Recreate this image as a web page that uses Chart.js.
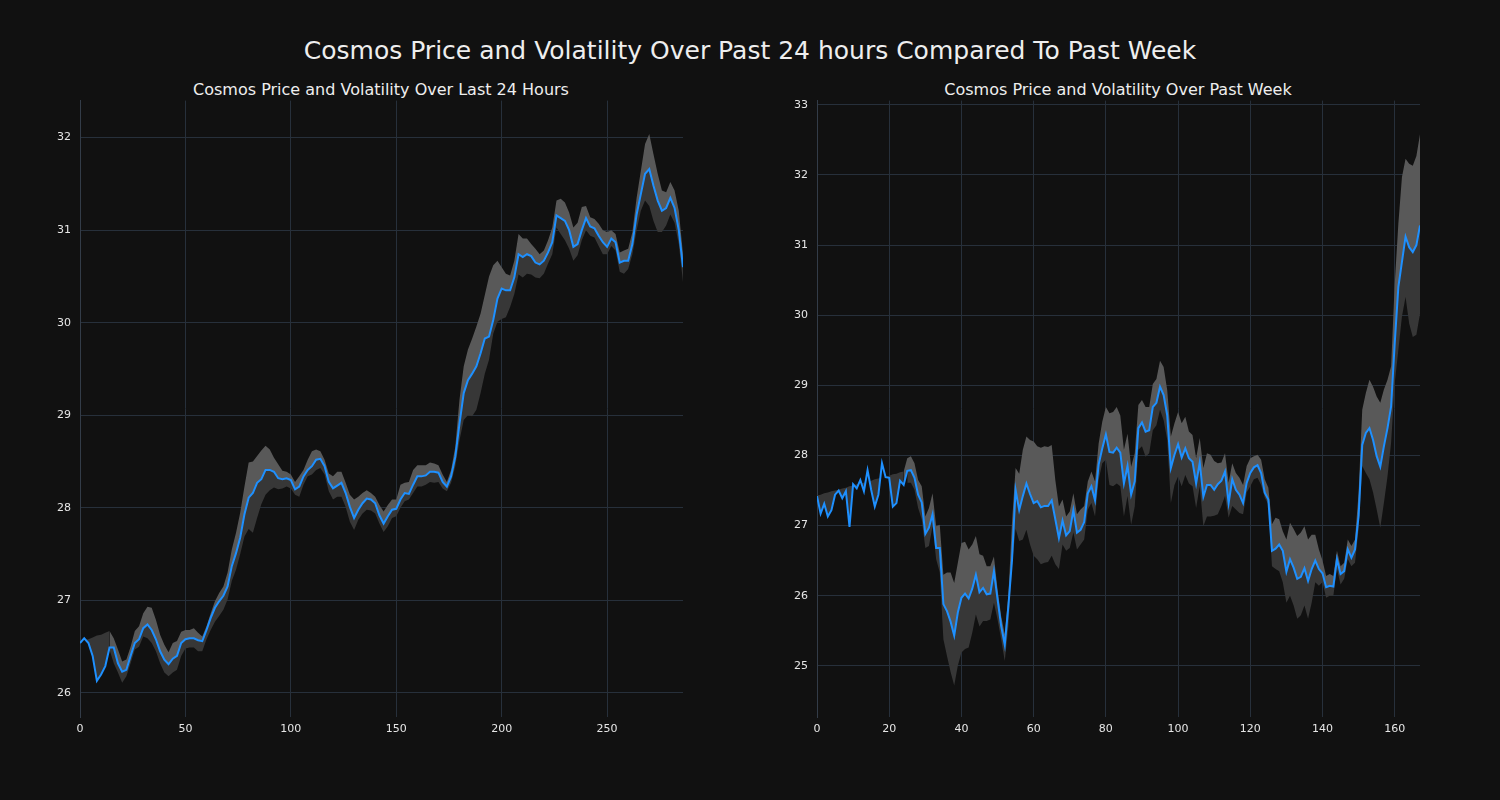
<!DOCTYPE html>
<html>
<head>
<meta charset="utf-8">
<script src="https://cdn.jsdelivr.net/npm/chart.js@4.4.1/dist/chart.umd.min.js"></script>
<style>
  html, body { margin: 0; padding: 0; background: #111111; width: 1500px; height: 800px; overflow: hidden; }
  .t { position: absolute; color: #eeeeee; font-family: "DejaVu Sans", sans-serif; white-space: nowrap; transform: translate(-50%, -50%); }
  #main { left: 750px; top: 50px; font-size: 25px; }
  .sub { top: 89px; font-size: 16px; }
  canvas { position: absolute; }
</style>
</head>
<body>
<div class="t" id="main">Cosmos Price and Volatility Over Past 24 hours Compared To Past Week</div>
<div class="t sub" style="left:381px">Cosmos Price and Volatility Over Last 24 Hours</div>
<div class="t sub" style="left:1118px">Cosmos Price and Volatility Over Past Week</div>
<div style="position:absolute;left:20px;top:85px;width:680px;height:660px"><canvas id="c1"></canvas></div>
<div style="position:absolute;left:757px;top:85px;width:683px;height:660px"><canvas id="c2"></canvas></div>
<script>
// ---------- Last 24 hours (5-min steps, every 2nd sample) ----------
const dayX = [0,2,4,6,8,10,12,14,16,18,20,22,24,26,28,30,32,34,36,38,40,42,44,46,48,50,52,54,56,58,60,62,64,66,68,70,72,74,76,78,80,82,84,86,88,90,92,94,96,98,100,102,104,106,108,110,112,114,116,118,120,122,124,126,128,130,132,134,136,138,140,142,144,146,148,150,152,154,156,158,160,162,164,166,168,170,172,174,176,178,180,182,184,186,188,190,192,194,196,198,200,202,204,206,208,210,212,214,216,218,220,222,224,226,228,230,232,234,236,238,240,242,244,246,248,250,252,254,256,258,260,262,264,266,268,270,272,274,276,278,280,282,284,286];
const dayPrice = [26.54,26.59,26.54,26.40,26.13,26.20,26.29,26.49,26.49,26.32,26.23,26.25,26.40,26.54,26.58,26.70,26.74,26.68,26.58,26.45,26.36,26.31,26.37,26.40,26.54,26.58,26.59,26.59,26.57,26.56,26.68,26.81,26.92,26.99,27.05,27.15,27.37,27.51,27.68,27.93,28.11,28.16,28.27,28.31,28.41,28.41,28.39,28.32,28.31,28.32,28.30,28.20,28.23,28.34,28.41,28.45,28.52,28.53,28.45,28.28,28.21,28.24,28.27,28.16,28.01,27.89,27.98,28.05,28.10,28.09,28.05,27.92,27.83,27.91,27.98,27.99,28.09,28.16,28.15,28.25,28.34,28.34,28.35,28.39,28.39,28.38,28.28,28.23,28.34,28.55,28.91,29.24,29.38,29.45,29.53,29.67,29.83,29.85,30.03,30.26,30.37,30.35,30.35,30.49,30.74,30.71,30.74,30.72,30.65,30.63,30.67,30.76,30.87,31.16,31.13,31.10,31.00,30.82,30.85,31.00,31.13,31.04,31.02,30.94,30.87,30.82,30.91,30.87,30.65,30.67,30.67,30.85,31.17,31.39,31.61,31.66,31.48,31.32,31.21,31.24,31.35,31.24,31.00,30.60];
const dayUpper = [null,null,null,null,null,null,null,26.67,26.59,26.47,26.34,26.36,26.50,26.67,26.72,26.86,26.93,26.92,26.79,26.63,26.52,26.44,26.54,26.56,26.66,26.68,26.68,26.70,26.65,26.61,26.72,26.86,26.99,27.08,27.15,27.30,27.55,27.73,27.95,28.23,28.49,28.50,28.56,28.62,28.67,28.63,28.54,28.47,28.40,28.39,28.36,28.28,28.34,28.41,28.52,28.61,28.63,28.61,28.52,28.37,28.34,28.39,28.39,28.27,28.14,28.09,28.12,28.16,28.19,28.16,28.12,28.03,27.96,28.03,28.09,28.09,28.25,28.27,28.28,28.41,28.46,28.46,28.46,28.49,28.48,28.46,28.36,28.28,28.41,28.66,29.17,29.53,29.71,29.83,29.96,30.10,30.30,30.50,30.62,30.67,30.60,30.53,30.51,30.67,30.96,30.91,30.91,30.85,30.80,30.74,30.78,30.89,31.03,31.32,31.34,31.30,31.19,31.03,31.08,31.25,31.26,31.14,31.12,31.07,31.00,30.98,31.00,30.96,30.76,30.78,30.80,30.98,31.35,31.64,31.93,32.04,31.82,31.61,31.43,31.41,31.52,31.43,31.21,30.74];
const dayLower = [null,null,null,null,null,null,null,26.47,26.32,26.22,26.11,26.18,26.32,26.47,26.50,26.61,26.59,26.54,26.45,26.32,26.22,26.18,26.22,26.25,26.40,26.48,26.49,26.49,26.45,26.45,26.58,26.68,26.77,26.83,26.90,27.01,27.21,27.33,27.50,27.69,27.77,27.73,27.89,28.04,28.14,28.19,28.22,28.20,28.21,28.23,28.21,28.14,28.12,28.25,28.34,28.36,28.41,28.43,28.36,28.18,28.09,28.12,28.12,28.01,27.85,27.76,27.87,27.94,27.98,27.97,27.94,27.83,27.74,27.80,27.89,27.91,28.00,28.07,28.09,28.16,28.23,28.23,28.25,28.28,28.27,28.28,28.21,28.18,28.27,28.45,28.73,28.95,29.00,28.99,29.06,29.24,29.45,29.60,29.88,30.01,30.04,30.06,30.17,30.31,30.52,30.49,30.53,30.52,30.49,30.48,30.53,30.64,30.74,31.03,30.96,30.89,30.80,30.67,30.73,30.89,31.00,30.94,30.92,30.83,30.74,30.74,30.83,30.78,30.55,30.53,30.58,30.74,31.00,31.21,31.32,31.26,31.10,30.98,30.98,31.05,31.17,31.08,30.85,30.44];
const dayWarmup = [26.55,26.57,26.58,26.60,26.62,26.63,26.65,26.67];
const dayYTicks = [26,27,28,29,30,31,32];
const dayXTicks = [0,50,100,150,200,250];

// ---------- Past week (hourly) ----------
const weekX = [0,1,2,3,4,5,6,7,8,9,10,11,12,13,14,15,16,17,18,19,20,21,22,23,24,25,26,27,28,29,30,31,32,33,34,35,36,37,38,39,40,41,42,43,44,45,46,47,48,49,50,51,52,53,54,55,56,57,58,59,60,61,62,63,64,65,66,67,68,69,70,71,72,73,74,75,76,77,78,79,80,81,82,83,84,85,86,87,88,89,90,91,92,93,94,95,96,97,98,99,100,101,102,103,104,105,106,107,108,109,110,111,112,113,114,115,116,117,118,119,120,121,122,123,124,125,126,127,128,129,130,131,132,133,134,135,136,137,138,139,140,141,142,143,144,145,146,147,148,149,150,151,152,153,154,155,156,157,158,159,160,161,162,163,164,165,166,167];
const weekPrice = [27.42,27.17,27.31,27.13,27.22,27.44,27.50,27.39,27.49,26.98,27.59,27.53,27.65,27.49,27.79,27.51,27.27,27.44,27.89,27.69,27.68,27.27,27.32,27.64,27.58,27.78,27.79,27.68,27.44,27.33,26.88,26.97,27.16,26.68,26.68,25.88,25.78,25.63,25.43,25.76,25.97,26.03,25.96,26.10,26.30,26.05,26.11,26.02,26.03,26.35,25.95,25.57,25.30,25.85,26.50,27.51,27.22,27.42,27.60,27.45,27.32,27.35,27.26,27.28,27.28,27.36,27.09,26.82,27.07,26.86,26.92,27.22,26.90,26.94,27.05,27.46,27.56,27.36,27.87,28.10,28.30,28.05,28.04,28.11,28.04,27.60,27.85,27.44,27.63,28.39,28.47,28.34,28.36,28.69,28.75,28.98,28.86,28.57,27.82,28.01,28.16,27.97,28.10,27.96,27.91,27.60,27.90,27.41,27.58,27.58,27.51,27.59,27.64,27.77,27.32,27.66,27.51,27.44,27.32,27.61,27.75,27.83,27.86,27.75,27.47,27.37,26.64,26.67,26.73,26.64,26.34,26.52,26.40,26.24,26.27,26.39,26.21,26.38,26.50,26.38,26.32,26.12,26.14,26.13,26.52,26.31,26.35,26.66,26.54,26.66,27.14,28.15,28.32,28.39,28.22,27.99,27.84,28.13,28.39,28.70,29.60,30.40,30.76,31.12,30.97,30.90,31.00,31.28];
const weekUpper = [null,null,null,null,null,null,null,null,null,null,null,null,null,null,null,null,null,null,null,null,null,null,null,null,27.77,27.96,27.99,27.89,27.65,27.56,27.13,27.25,27.46,26.99,27.01,26.30,26.33,26.33,26.18,26.47,26.75,26.77,26.66,26.73,26.85,26.59,26.57,26.42,26.42,26.56,26.09,25.71,25.45,26.00,27.04,27.82,27.74,28.08,28.27,28.22,28.20,28.13,28.11,28.13,28.12,28.15,27.65,27.27,27.37,27.13,27.20,27.46,27.16,27.23,27.28,27.63,27.77,27.63,28.17,28.48,28.69,28.60,28.62,28.69,28.57,28.08,28.31,27.84,28.03,28.72,28.79,28.69,28.69,29.02,29.09,29.35,29.26,28.93,28.27,28.46,28.62,28.46,28.55,28.34,28.29,27.96,28.25,27.82,28.03,28.01,27.92,27.89,27.90,28.03,27.61,27.89,27.75,27.68,27.58,27.85,27.96,27.99,28.01,27.94,27.66,27.54,27.02,27.11,27.09,26.92,26.80,27.04,26.95,26.85,26.90,26.99,26.80,26.87,26.87,26.66,26.50,26.28,26.31,26.28,26.64,26.42,26.47,26.80,26.71,26.80,27.47,28.65,28.89,29.08,28.98,28.84,28.75,28.94,29.08,29.27,30.45,31.30,31.97,32.23,32.16,32.13,32.27,32.58];
const weekLower = [null,null,null,null,null,null,null,null,null,null,null,null,null,null,null,null,null,null,null,null,null,null,null,null,null,27.61,27.61,27.51,27.25,27.09,26.68,26.71,26.99,26.52,26.33,25.38,25.14,24.91,24.72,25.00,25.19,25.24,25.26,25.47,25.73,25.56,25.64,25.64,25.66,25.90,25.66,25.38,25.07,25.56,26.42,26.95,26.78,26.80,26.94,26.73,26.57,26.52,26.45,26.47,26.48,26.57,26.45,26.38,26.73,26.64,26.68,26.90,26.66,26.73,26.80,27.23,27.32,27.13,27.65,27.89,27.94,27.58,27.56,27.60,27.56,27.13,27.42,27.01,27.27,28.08,28.13,27.98,28.03,28.36,28.43,28.65,28.50,28.22,27.32,27.58,27.70,27.56,27.72,27.60,27.56,27.25,27.56,26.99,27.13,27.13,27.14,27.16,27.28,27.42,27.11,27.28,27.23,27.18,27.16,27.47,27.56,27.66,27.68,27.58,27.40,27.30,26.42,26.38,26.35,26.19,25.90,26.00,25.86,25.67,25.72,25.86,25.67,25.90,26.19,26.14,26.19,25.97,26.00,26.00,26.38,26.16,26.24,26.52,26.42,26.47,26.95,27.85,27.75,27.66,27.47,27.23,26.97,27.32,27.70,28.18,29.03,29.50,29.98,30.26,29.88,29.69,29.72,30.02];
const weekWarmup = [27.43,27.44,27.46,27.47,27.49,27.50,27.51,27.53,27.54,27.56,27.57,27.59,27.60,27.61,27.63,27.64,27.66,27.67,27.69,27.70,27.71,27.73,27.74,27.76,27.77];
const weekYTicks = [25,26,27,28,29,30,31,32,33];
const weekXTicks = [0,20,40,60,80,100,120,140,160];

// ---------- styling ----------
const LINE = '#1e90ff';
const LIGHT = '#595959';
const DARK = '#373737';
const GRID = '#27303b';
const FONT = { family: 'DejaVu Sans', size: 11 };
const TICKC = '#e6e6e6';

function build(canvasId, xs, price, upper, lower, warm, xTicks, yTicks, xMin, xMax, yMin, yMax, rightPad) {
  const warmFull = xs.map((_, i) => (i < warm.length ? warm[i] : null));
  return new Chart(document.getElementById(canvasId), {
    type: 'line',
    data: {
      labels: xs,
      datasets: [
        { data: price, borderColor: LINE, borderWidth: 2, pointRadius: 0, fill: false, tension: 0, order: 0 },
        { data: upper, borderWidth: 0, borderColor: 'rgba(0,0,0,0)', pointRadius: 0, tension: 0, order: 2,
          backgroundColor: LIGHT, fill: { target: 0, above: LIGHT, below: LIGHT } },
        { data: lower, borderWidth: 0, borderColor: 'rgba(0,0,0,0)', pointRadius: 0, tension: 0, order: 2,
          backgroundColor: DARK, fill: { target: 0, above: DARK, below: DARK } },
        { data: warmFull, borderWidth: 0, borderColor: 'rgba(0,0,0,0)', pointRadius: 0, tension: 0, order: 2,
          backgroundColor: DARK, fill: { target: 0, above: DARK, below: 'rgba(0,0,0,0)' } }
      ]
    },
    options: {
      responsive: true, maintainAspectRatio: false, animation: false,
      layout: { padding: { left: 0, right: rightPad, top: 5, bottom: 0 } },
      plugins: { legend: { display: false }, tooltip: { enabled: false } },
      scales: {
        x: {
          type: 'linear', min: xMin, max: xMax,
          afterBuildTicks: (s) => { s.ticks = xTicks.map(v => ({ value: v })); },
          afterFit: (s) => { s.height = 28; },
          ticks: { color: TICKC, font: FONT, padding: 6, maxRotation: 0, autoSkip: false },
          grid: { color: GRID, lineWidth: 1, drawTicks: false },
          border: { display: false }
        },
        y: {
          type: 'linear', min: yMin, max: yMax,
          afterBuildTicks: (s) => { s.ticks = yTicks.map(v => ({ value: v })); },
          afterFit: (s) => { s.width = 60; },
          ticks: { color: TICKC, font: FONT, padding: 9, autoSkip: false },
          grid: { color: GRID, lineWidth: 1, drawTicks: false },
          border: { display: true, color: '#333c48', width: 1 }
        }
      }
    }
  });
}

build('c1', dayX, dayPrice, dayUpper, dayLower, dayWarmup, dayXTicks, dayYTicks, 0, 286, 25.74, 32.40, 17);
build('c2', weekX, weekPrice, weekUpper, weekLower, weekWarmup, weekXTicks, weekYTicks, 0, 167, 24.27, 33.06, 20);
</script>
</body>
</html>
